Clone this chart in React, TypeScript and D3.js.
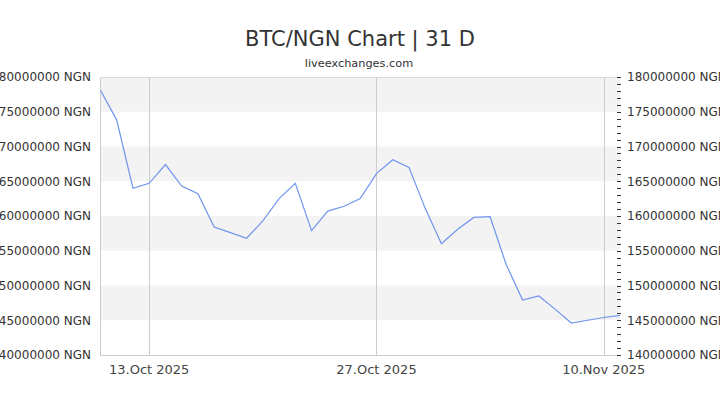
import React from "react";
import * as d3 from "d3";

const startDate = "2025-10-10";
const values: number[] = [
  178.1, 173.8, 164.0, 164.7, 167.4, 164.3, 163.2, 158.4, 157.6, 156.8,
  159.3, 162.5, 164.7, 157.9, 160.7, 161.4, 162.5, 166.1, 168.1, 167.0,
  161.1, 156.0, 158.1, 159.8, 159.9, 152.95, 147.9, 148.5, 146.6, 144.6,
  145.0, 145.4, 145.7,
];
const xTickDates = ["2025-10-13", "2025-10-27", "2025-11-10"];
const xTickLabels = ["13.Oct 2025", "27.Oct 2025", "10.Nov 2025"];
const yTicks = [140, 145, 150, 155, 160, 165, 170, 175, 180];
const title = "BTC/NGN Chart | 31 D";
const subtitle = "liveexchanges.com";

const W = 720;
const H = 405;
const L = 100.5;
const R = 620;
const T = 77;
const B = 355;

const parse = d3.timeParse("%Y-%m-%d");

export default function App() {
  const start = parse(startDate) as Date;
  const data = values.map((v, i) => ({ date: d3.timeDay.offset(start, i), v: v * 1e6 }));
  const x = d3
    .scaleTime()
    .domain([data[0].date, data[data.length - 1].date])
    .range([L, R]);
  const y = d3.scaleLinear().domain([140e6, 180e6]).range([B, T]);
  const line = d3
    .line<{ date: Date; v: number }>()
    .x((d) => x(d.date))
    .y((d) => y(d.v));

  const bands = yTicks.slice(0, -1).map((t, i) => ({ lo: t * 1e6, hi: yTicks[i + 1] * 1e6, gray: i % 2 === 1 }));
  const minor = d3.range(140, 181, 1);
  const font = "'DejaVu Sans', sans-serif";

  return (
    <svg
      width={W}
      height={H}
      style={{ position: "absolute", left: 0, top: 0, display: "block", background: "#fff" }}
    >
      <rect x={0} y={0} width={W} height={H} fill="#fff" />
      {bands.map((b, i) =>
        b.gray ? (
          <rect key={i} x={100} y={y(b.hi)} width={R - 100} height={y(b.lo) - y(b.hi)} fill="#f3f3f3" />
        ) : null
      )}
      {xTickDates.map((d, i) => {
        const xx = Math.round(x(parse(d) as Date)) + 0.5;
        return <line key={i} x1={xx} x2={xx} y1={T} y2={B} stroke="#cccccc" strokeWidth={1} />;
      })}
      <line x1={100.5} x2={100.5} y1={T} y2={B} stroke="#cccccc" />
      <line x1={100} x2={R} y1={T + 0.5} y2={T + 0.5} stroke="#d8d8d8" />
      <line x1={100} x2={R} y1={B + 0.5} y2={B + 0.5} stroke="#cccccc" />
      {minor.map((m) => {
        const yy = Math.round(y(m * 1e6)) + 0.5;
        return <line key={m} x1={617} x2={621} y1={yy} y2={yy} stroke="#333" strokeWidth={1} />;
      })}
      <path d={line(data) || ""} fill="none" stroke="#6f95ee" strokeWidth={1.2} />
      {yTicks.map((t) => (
        <text
          key={"l" + t}
          x={91}
          y={y(t * 1e6)}
          dy="0.36em"
          textAnchor="end"
          fontFamily={font}
          fontSize={12}
          fill="#333"
        >
          {`${t}000000 NGN`}
        </text>
      ))}
      {yTicks.map((t) => (
        <text
          key={"r" + t}
          x={627}
          y={y(t * 1e6)}
          dy="0.36em"
          textAnchor="start"
          fontFamily={font}
          fontSize={12}
          fill="#333"
        >
          {`${t}000000 NGN`}
        </text>
      ))}
      {xTickDates.map((d, i) => (
        <text
          key={"x" + i}
          x={x(parse(d) as Date)}
          y={374}
          textAnchor="middle"
          fontFamily={font}
          fontSize={13}
          fill="#444"
        >
          {xTickLabels[i]}
        </text>
      ))}
      <text x={360} y={46} textAnchor="middle" fontFamily={font} fontSize={21} fill="#333">
        {title}
      </text>
      <text x={359} y={67} textAnchor="middle" fontFamily={font} fontSize={11.3} fill="#333">
        {subtitle}
      </text>
    </svg>
  );
}
